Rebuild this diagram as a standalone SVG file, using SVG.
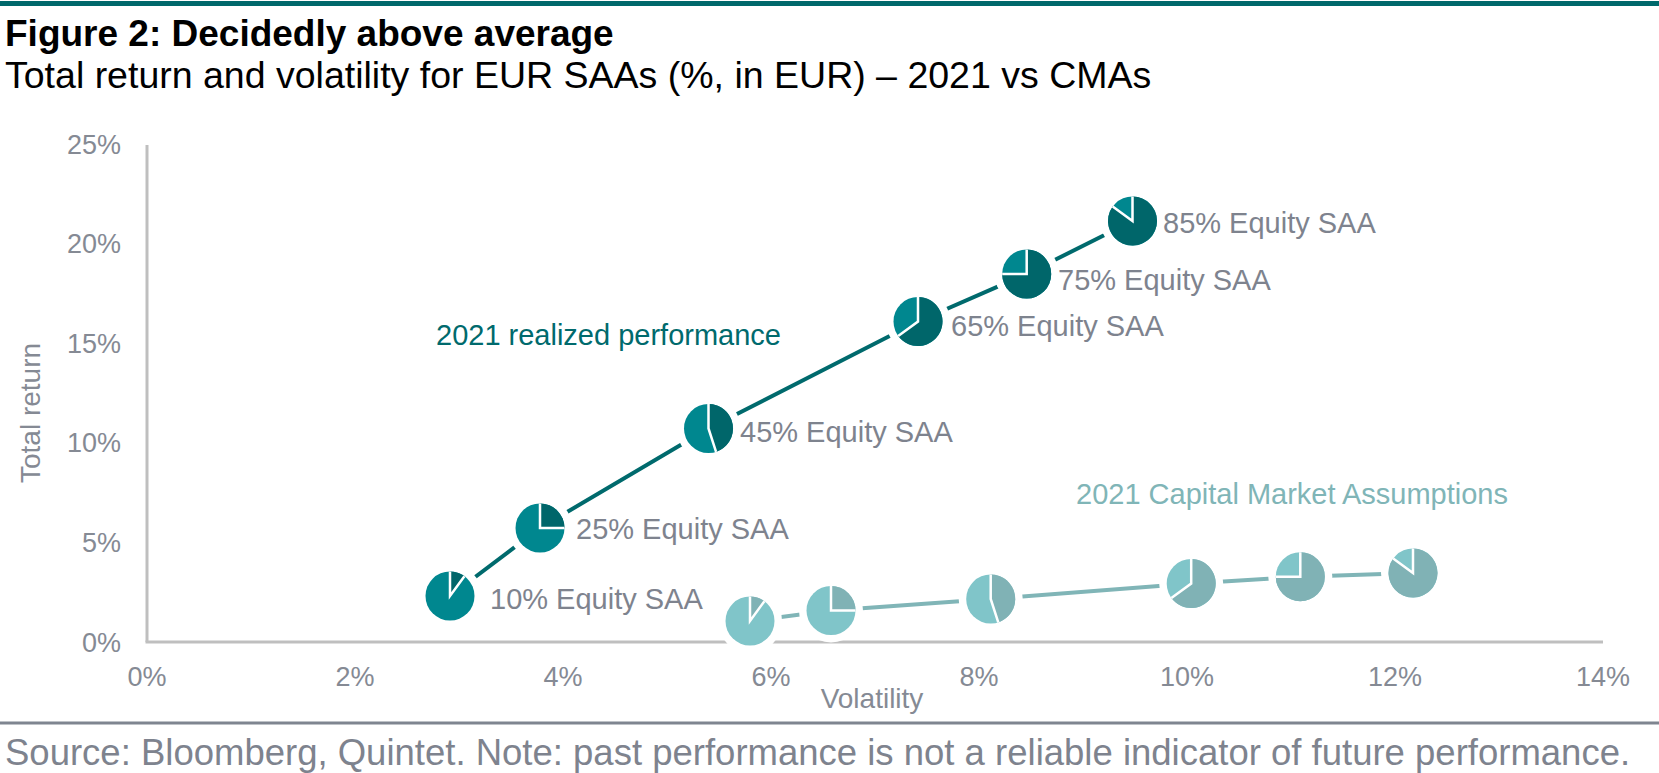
<svg xmlns="http://www.w3.org/2000/svg" width="1659" height="773" viewBox="0 0 1659 773">
<style>
text{font-family:"Liberation Sans",Arial,sans-serif}
.title{font-size:37px;font-weight:bold;fill:#000}
.sub{font-size:37.5px;fill:#000}
.tick{font-size:27px;fill:#858a94}
.axt{font-size:28px;fill:#858a94}
.lbl{font-size:29px;fill:#7e838e}
.foot{font-size:36.5px;fill:#7e838e}
.axis{stroke:#bfbfbf;stroke-width:3;fill:none}
.halo{fill:#fff}
.rbase{fill:#00878f}
.req{fill:#00666a}
.cbase{fill:#80c5c9}
.ceq{fill:#80b2b5}
.sep{stroke:#fff;stroke-width:2.5;fill:none}
.rline{stroke:#006a6d;stroke-width:4;fill:none}
.cline{stroke:#80b5b7;stroke-width:4;fill:none}
</style>
<rect x="0" y="1" width="1659" height="5" fill="#00686b"/>
<text class="title" x="5" y="46">Figure 2: Decidedly above average</text>
<text class="sub" x="5" y="88">Total return and volatility for EUR SAAs (%, in EUR) – 2021 vs CMAs</text>

<g id="axes">
<line class="axis" x1="147" y1="145" x2="147" y2="642"/>
<line class="axis" x1="145.5" y1="642" x2="1603" y2="642"/>
<g class="tick" text-anchor="end">
<text x="121" y="153.5">25%</text>
<text x="121" y="253.1">20%</text>
<text x="121" y="352.7">15%</text>
<text x="121" y="452.3">10%</text>
<text x="121" y="551.9">5%</text>
<text x="121" y="651.5">0%</text>
</g>
<g class="tick" text-anchor="middle">
<text x="147" y="686">0%</text>
<text x="355" y="686">2%</text>
<text x="563" y="686">4%</text>
<text x="771" y="686">6%</text>
<text x="979" y="686">8%</text>
<text x="1187" y="686">10%</text>
<text x="1395" y="686">12%</text>
<text x="1603" y="686">14%</text>
</g>
<text class="axt" x="872" y="708" text-anchor="middle">Volatility</text>
<text class="axt" transform="translate(40,413) rotate(-90)" text-anchor="middle">Total return</text>
</g>

<g id="connectors">
<polyline class="rline" points="450,596 540,528 708.5,428.5 918,321.5 1026.7,274 1132.5,221"/>
<polyline class="cline" points="750,621 831,610.5 990.7,599 1191.2,583.5 1300.3,576.7 1413,573"/>
</g>

<g id="r10">
<circle class="halo" cx="450" cy="596" r="32"/>
<circle class="rbase" cx="450" cy="596" r="24.5"/>
<path class="req" d="M450,596 L450,571.5 A24.5,24.5 0 0 1 464.4,576.18 Z"/>
<path class="sep" d="M450,571.5 L450,596 L464.4,576.18"/>
<text class="lbl" x="490" y="609">10% Equity SAA</text>
</g>
<g id="r25">
<circle class="halo" cx="540" cy="528" r="32"/>
<circle class="rbase" cx="540" cy="528" r="24.5"/>
<path class="req" d="M540,528 L540,503.5 A24.5,24.5 0 0 1 564.5,528 Z"/>
<path class="sep" d="M540,503.5 L540,528 L564.5,528"/>
<text class="lbl" x="576" y="539">25% Equity SAA</text>
</g>
<g id="r45">
<circle class="halo" cx="708.5" cy="428.5" r="32"/>
<circle class="rbase" cx="708.5" cy="428.5" r="24.5"/>
<path class="req" d="M708.5,428.5 L708.5,404 A24.5,24.5 0 0 1 716.07,451.8 Z"/>
<path class="sep" d="M708.5,404 L708.5,428.5 L716.07,451.8"/>
<text class="lbl" x="740" y="442">45% Equity SAA</text>
</g>
<g id="r65">
<circle class="halo" cx="918" cy="321.5" r="32"/>
<circle class="rbase" cx="918" cy="321.5" r="24.5"/>
<path class="req" d="M918,321.5 L918,297 A24.5,24.5 0 1 1 898.18,335.9 Z"/>
<path class="sep" d="M918,297 L918,321.5 L898.18,335.9"/>
<text class="lbl" x="951" y="336">65% Equity SAA</text>
</g>
<g id="r75">
<circle class="halo" cx="1026.7" cy="274" r="32"/>
<circle class="rbase" cx="1026.7" cy="274" r="24.5"/>
<path class="req" d="M1026.7,274 L1026.7,249.5 A24.5,24.5 0 1 1 1002.2,274 Z"/>
<path class="sep" d="M1026.7,249.5 L1026.7,274 L1002.2,274"/>
<text class="lbl" x="1058" y="290">75% Equity SAA</text>
</g>
<g id="r85">
<circle class="halo" cx="1132.5" cy="221" r="32"/>
<circle class="rbase" cx="1132.5" cy="221" r="24.5"/>
<path class="req" d="M1132.5,221 L1132.5,196.5 A24.5,24.5 0 1 1 1112.68,206.6 Z"/>
<path class="sep" d="M1132.5,196.5 L1132.5,221 L1112.68,206.6"/>
<text class="lbl" x="1163" y="233">85% Equity SAA</text>
</g>

<g id="c10">
<circle class="halo" cx="750" cy="621" r="32"/>
<circle class="cbase" cx="750" cy="621" r="24.5"/>
<path class="ceq" d="M750,621 L750,596.5 A24.5,24.5 0 0 1 764.4,601.18 Z"/>
<path class="sep" d="M750,596.5 L750,621 L764.4,601.18"/>
</g>
<g id="c25">
<circle class="halo" cx="831" cy="610.5" r="32"/>
<circle class="cbase" cx="831" cy="610.5" r="24.5"/>
<path class="ceq" d="M831,610.5 L831,586 A24.5,24.5 0 0 1 855.5,610.5 Z"/>
<path class="sep" d="M831,586 L831,610.5 L855.5,610.5"/>
</g>
<g id="c45">
<circle class="halo" cx="990.7" cy="599" r="32"/>
<circle class="cbase" cx="990.7" cy="599" r="24.5"/>
<path class="ceq" d="M990.7,599 L990.7,574.5 A24.5,24.5 0 0 1 998.27,622.3 Z"/>
<path class="sep" d="M990.7,574.5 L990.7,599 L998.27,622.3"/>
</g>
<g id="c65">
<circle class="halo" cx="1191.2" cy="583.5" r="32"/>
<circle class="cbase" cx="1191.2" cy="583.5" r="24.5"/>
<path class="ceq" d="M1191.2,583.5 L1191.2,559 A24.5,24.5 0 1 1 1171.38,597.9 Z"/>
<path class="sep" d="M1191.2,559 L1191.2,583.5 L1171.38,597.9"/>
</g>
<g id="c75">
<circle class="halo" cx="1300.3" cy="576.7" r="32"/>
<circle class="cbase" cx="1300.3" cy="576.7" r="24.5"/>
<path class="ceq" d="M1300.3,576.7 L1300.3,552.2 A24.5,24.5 0 1 1 1275.8,576.7 Z"/>
<path class="sep" d="M1300.3,552.2 L1300.3,576.7 L1275.8,576.7"/>
</g>
<g id="c85">
<circle class="halo" cx="1413" cy="573" r="32"/>
<circle class="cbase" cx="1413" cy="573" r="24.5"/>
<path class="ceq" d="M1413,573 L1413,548.5 A24.5,24.5 0 1 1 1393.18,558.6 Z"/>
<path class="sep" d="M1413,548.5 L1413,573 L1393.18,558.6"/>
</g>

<g id="series-labels">
<text x="436" y="345" font-size="29" fill="#006a6d">2021 realized performance</text>
<text x="1076" y="504" font-size="29" fill="#80b5b7">2021 Capital Market Assumptions</text>
</g>

<rect x="0" y="721.5" width="1659" height="3" fill="#7f8590"/>
<text class="foot" x="5" y="765">Source: Bloomberg, Quintet. Note: past performance is not a reliable indicator of future performance.</text>
</svg>
